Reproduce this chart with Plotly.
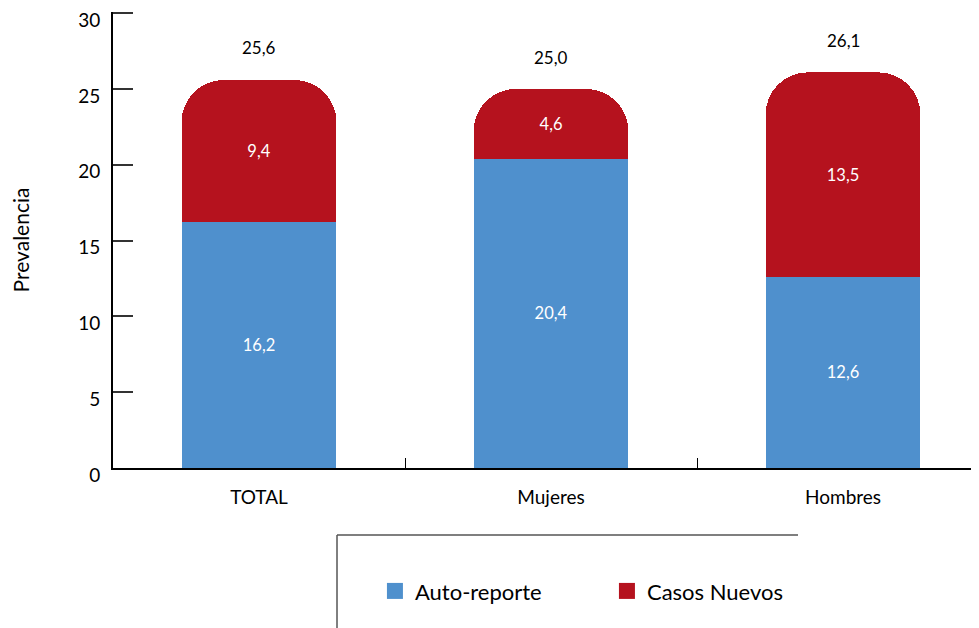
import plotly.graph_objects as go

categories = ['TOTAL', 'Mujeres', 'Hombres']
auto_reporte = [16.2, 20.4, 12.6]
casos_nuevos = [9.4, 4.6, 13.5]
totales = [25.6, 25.0, 26.1]

BLUE = '#4F90CD'
RED = '#B5121E'
FONT = 'Lato, Open Sans, sans-serif'

fig = go.Figure()

fig.add_trace(go.Bar(
    x=categories, y=auto_reporte, name='Auto-reporte',
    marker=dict(color=BLUE, line=dict(width=0)),
    texttemplate='%{y:.1f}', textposition='inside', insidetextanchor='middle',
    textfont=dict(color='white', size=16.5), textangle=0,
    showlegend=False, hoverinfo='skip'
))
fig.add_trace(go.Bar(
    x=categories, y=casos_nuevos, name='Casos Nuevos',
    marker=dict(color=RED, line=dict(width=0), cornerradius=42),
    texttemplate='%{y:.1f}', textposition='inside', insidetextanchor='middle',
    textfont=dict(color='white', size=16.5), textangle=0,
    showlegend=False, hoverinfo='skip'
))

# legend entries
for name, color in [('Auto-reporte', BLUE), ('Casos Nuevos', RED)]:
    fig.add_trace(go.Scatter(
        x=[None], y=[None], mode='markers', name=name,
        marker=dict(symbol='square', size=22, color=color),
    ))

# totals above bars
for cat, tot in zip(categories, totales):
    fig.add_annotation(
        x=cat, y=tot, text=f'{tot:.1f}'.replace('.', ','),
        showarrow=False, yanchor='middle', yshift=32,
        font=dict(size=17, color='black', family=FONT)
    )

# legend frame
fig.add_shape(type='line', xref='paper', yref='paper',
              x0=0.2563, x1=0.7838, y0=-0.147, y1=-0.147,
              line=dict(color='#555555', width=1.5))
fig.add_shape(type='line', xref='paper', yref='paper',
              x0=0.2563, x1=0.2563, y0=-0.147, y1=-0.40,
              line=dict(color='#555555', width=1.5))

fig.update_layout(
    width=979, height=628,
    barmode='stack', bargap=0.47,
    separators=',.',
    font=dict(family=FONT, color='black', size=17),
    plot_bgcolor='white', paper_bgcolor='white',
    margin=dict(l=105, r=0, t=4, b=168, autoexpand=False),
    showlegend=True,
    legend=dict(
        orientation='h', x=0.2997, y=-0.27, xanchor='left', yanchor='middle',
        font=dict(size=22, family=FONT), entrywidth=187, itemsizing='trace',
        traceorder='normal', bgcolor='rgba(0,0,0,0)'
    ),
    xaxis=dict(
        range=[-0.5, 2.493], showline=True, linecolor='black', linewidth=2,
        ticks='inside', tickson='boundaries', ticklen=10, tickcolor='black',
        showgrid=False, tickfont=dict(size=19), automargin=False,
        ticklabelstandoff=11
    ),
    yaxis=dict(
        range=[0, 30.08], tickvals=[0, 5, 10, 15, 20, 25, 30],
        showline=True, linecolor='black', linewidth=2,
        ticks='inside', ticklen=20, tickcolor='#333333', tickwidth=1.5,
        showgrid=False, zeroline=False, tickfont=dict(size=19),
        ticklabelshift=7, ticklabelstandoff=7, automargin=False,
        ticklabeloverflow='allow',
        title=dict(text='Prevalencia', standoff=44, font=dict(size=21))
    ),
)

fig.write_html('out.html')
